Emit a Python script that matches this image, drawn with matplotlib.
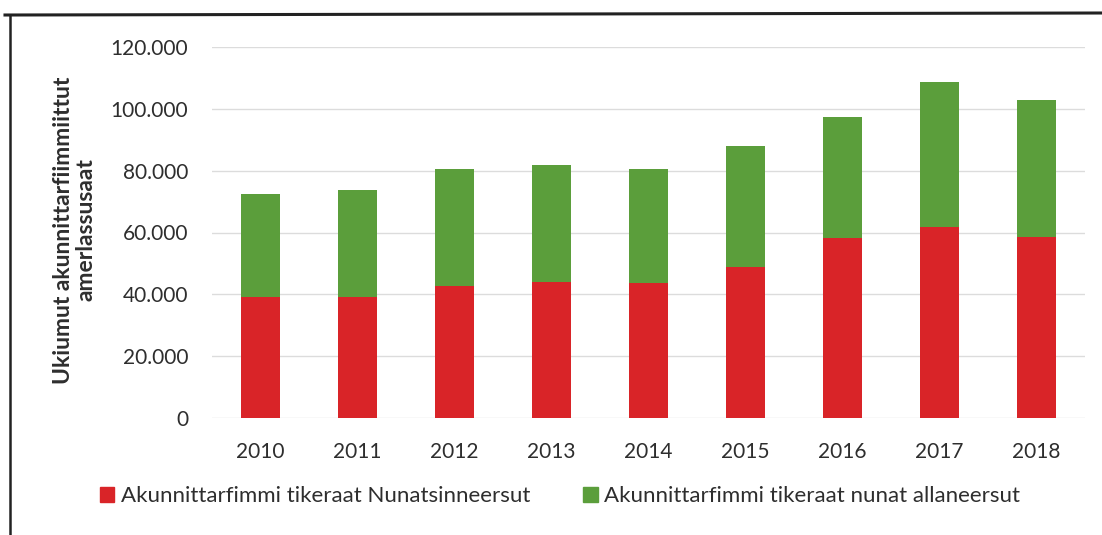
import matplotlib
matplotlib.use("Agg")
import matplotlib.pyplot as plt
from matplotlib.ticker import FuncFormatter, MultipleLocator
from matplotlib.lines import Line2D

years = ["2010", "2011", "2012", "2013", "2014", "2015", "2016", "2017", "2018"]
nunatsinneersut = [39000, 39000, 42600, 44000, 43600, 48800, 58100, 61700, 58500]
allaneersut = [33400, 34700, 38000, 37700, 36800, 39100, 39100, 47100, 44200]
series_labels = ["Akunnittarfimmi tikeraat Nunatsinneersut",
                 "Akunnittarfimmi tikeraat nunat allaneersut"]
ylabel = "Ukiumut akunnittarfiimmiittut\namerlassusaat"

plt.rcParams['font.family'] = ['Lato', 'DejaVu Sans']
red = "#d92428"
green = "#5b9e3b"
text_col = "#2e2e2e"

fig = plt.figure(figsize=(11.02, 5.35), dpi=100)
ax = fig.add_axes([212/1102, 1-418/535, 873/1102, 371/535])

x = list(range(len(years)))
ax.bar(x, nunatsinneersut, width=0.40, color=red, label=series_labels[0], zorder=3)
ax.bar(x, allaneersut, width=0.40, bottom=nunatsinneersut, color=green, label=series_labels[1], zorder=3)

ax.set_xlim(-0.5, 8.5)
ax.set_ylim(0, 120000)
ax.yaxis.set_major_locator(MultipleLocator(20000))
ax.yaxis.set_major_formatter(FuncFormatter(lambda v, p: f"{int(v):,}".replace(",", ".")))
ax.set_xticks(x)
ax.set_xticklabels(years)
ax.grid(axis='y', color='#dcdcdc', linewidth=1, zorder=0)
for s in ax.spines.values():
    s.set_visible(False)
ax.tick_params(axis='both', length=0, labelsize=15, colors=text_col)
ax.tick_params(axis='y', pad=17)
ax.tick_params(axis='x', pad=17)

fig.text(75/1102, 1-230/535, ylabel, rotation=90, ha='center', va='center',
         fontsize=16.5, fontweight='bold', color=text_col, multialignment='center',
         linespacing=1.1)

handles = [plt.Rectangle((0, 0), 1, 1, color=red), plt.Rectangle((0, 0), 1, 1, color=green)]
fig.legend(handles, series_labels, loc='center', bbox_to_anchor=(560/1102, 1-496/535),
           ncol=2, frameon=False, fontsize=16, handlelength=0.65, handleheight=0.65,
           handletextpad=0.3, columnspacing=2.4, labelcolor=text_col)

# scanned frame lines
fig.add_artist(Line2D([5/1102, 1.0], [1-15/535, 1-13/535], color='#222222', linewidth=2.2, transform=fig.transFigure))
fig.add_artist(Line2D([10/1102, 10/1102], [1-15/535, 0.0], color='#222222', linewidth=1.8, transform=fig.transFigure))

fig.savefig("out.png", dpi=100)
